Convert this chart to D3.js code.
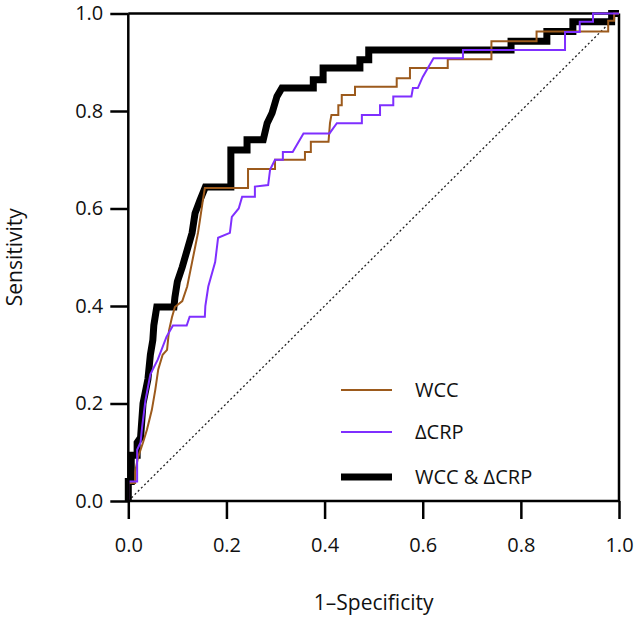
<!DOCTYPE html>
<html><head><meta charset="utf-8">
<script src="https://cdn.jsdelivr.net/npm/d3@7"></script>
<style>body{margin:0;background:#fff}svg{display:block}text{font-family:"Open Sans",sans-serif;fill:#111}</style>
</head><body><div id="chart"></div>
<script>
const xTicks = [0, 0.2, 0.4, 0.6, 0.8, 1.0];
const yTicks = [0, 0.2, 0.4, 0.6, 0.8, 1.0];
const seriesNames = ["WCC", "\u0394CRP", "WCC & \u0394CRP"];
const seriesColors = ["#9c5a1c", "#7f2fff", "#000000"];
const seriesWidths = [2, 2, 7];

const wcc = [[0,0],[0,0.037],[0.014,0.037],[0.014,0.06],[0.02,0.09],[0.03,0.12],[0.038,0.146],[0.048,0.187],[0.055,0.228],[0.061,0.27],[0.07,0.30],[0.079,0.31],[0.083,0.35],[0.089,0.377],[0.095,0.398],[0.11,0.41],[0.12,0.44],[0.13,0.49],[0.136,0.52],[0.142,0.55],[0.146,0.576],[0.152,0.617],[0.156,0.642],[0.244,0.642],[0.244,0.681],[0.299,0.681],[0.299,0.70],[0.36,0.70],[0.36,0.716],[0.372,0.716],[0.372,0.737],[0.408,0.737],[0.411,0.775],[0.414,0.792],[0.428,0.792],[0.428,0.812],[0.435,0.812],[0.435,0.833],[0.462,0.833],[0.462,0.85],[0.547,0.85],[0.547,0.867],[0.574,0.867],[0.574,0.888],[0.651,0.888],[0.651,0.906],[0.74,0.906],[0.74,0.943],[0.832,0.943],[0.832,0.963],[0.978,0.963],[0.978,0.985],[0.99,0.985],[0.99,1.0],[1,1]];

const dcrp = [[0,0],[0,0.04],[0.018,0.04],[0.018,0.105],[0.025,0.12],[0.028,0.15],[0.035,0.207],[0.045,0.26],[0.06,0.29],[0.078,0.337],[0.091,0.36],[0.119,0.36],[0.125,0.378],[0.156,0.378],[0.157,0.40],[0.16,0.42],[0.163,0.44],[0.177,0.49],[0.183,0.54],[0.207,0.55],[0.211,0.583],[0.225,0.60],[0.232,0.624],[0.258,0.624],[0.258,0.645],[0.285,0.648],[0.289,0.68],[0.299,0.70],[0.315,0.70],[0.315,0.716],[0.335,0.716],[0.357,0.754],[0.41,0.754],[0.425,0.775],[0.476,0.775],[0.476,0.792],[0.513,0.792],[0.513,0.812],[0.54,0.812],[0.54,0.83],[0.577,0.83],[0.58,0.847],[0.59,0.847],[0.6,0.87],[0.622,0.908],[0.682,0.908],[0.682,0.925],[0.89,0.925],[0.89,0.962],[0.92,0.962],[0.92,0.983],[0.947,0.983],[0.947,1.0],[1,1]];

const combo = [[0,0],[0,0.04],[0.006,0.04],[0.006,0.094],[0.018,0.094],[0.018,0.12],[0.025,0.13],[0.03,0.2],[0.04,0.25],[0.045,0.3],[0.05,0.33],[0.052,0.36],[0.058,0.398],[0.093,0.398],[0.095,0.418],[0.1,0.45],[0.11,0.48],[0.12,0.515],[0.13,0.55],[0.136,0.59],[0.146,0.617],[0.157,0.644],[0.209,0.644],[0.209,0.72],[0.242,0.72],[0.242,0.741],[0.275,0.741],[0.283,0.775],[0.293,0.796],[0.303,0.83],[0.313,0.847],[0.377,0.847],[0.377,0.864],[0.397,0.864],[0.397,0.888],[0.472,0.888],[0.472,0.905],[0.49,0.905],[0.49,0.925],[0.78,0.925],[0.78,0.943],[0.853,0.943],[0.853,0.963],[0.906,0.963],[0.906,0.983],[0.985,0.983],[0.985,1.0],[1,1]];

const seriesData = [wcc, dcrp, combo];

const W = 637, H = 619;
const svg = d3.select("#chart").append("svg").attr("width", W).attr("height", H);
const x = d3.scaleLinear().domain([0,1]).range([128.3, 619]);
const y = d3.scaleLinear().domain([0,1]).range([501, 13.5]);

// frame top/right
svg.append("line").attr("x1", x(0)).attr("x2", x(1)).attr("y1", y(1)).attr("y2", y(1)).attr("stroke","#000").attr("stroke-width",2.5);
svg.append("line").attr("x1", x(1)).attr("x2", x(1)).attr("y1", y(0)).attr("y2", y(1)).attr("stroke","#000").attr("stroke-width",2.5);

// diagonal reference
svg.append("line").attr("x1", x(0)).attr("y1", y(0)).attr("x2", x(1)).attr("y2", y(1))
  .attr("stroke","#222").attr("stroke-width",1.3).attr("stroke-dasharray","2,2.5");

const line = d3.line().x(d => x(d[0])).y(d => y(d[1]));
[2,0,1].forEach(i => {
  svg.append("path").datum(seriesData[i]).attr("d", line)
    .attr("fill","none").attr("stroke", seriesColors[i]).attr("stroke-width", seriesWidths[i])
    .attr("stroke-linejoin","miter");
});

const fmt = d3.format(".1f");
const xAxis = svg.append("g").attr("transform", `translate(0,${y(0)})`)
  .call(d3.axisBottom(x).tickValues(xTicks).tickFormat(fmt).tickSize(18).tickPadding(19));
const yAxis = svg.append("g").attr("transform", `translate(${x(0)},0)`)
  .call(d3.axisLeft(y).tickValues(yTicks).tickFormat(fmt).tickSize(18).tickPadding(7));
[xAxis, yAxis].forEach(g => {
  g.selectAll("path,line").attr("stroke","#000").attr("stroke-width",2.5);
  g.selectAll("text").attr("font-size",20).attr("font-family","'Open Sans',sans-serif").attr("fill","#111");
});
xAxis.select(".domain").attr("d", `M${x(0)},0H${x(1)}`);
yAxis.select(".domain").attr("d", `M0,${y(0)}V${y(1)}`);

svg.append("text").attr("x", (x(0)+x(1))/2).attr("y", 610).attr("text-anchor","middle")
  .attr("font-size",21).text("1\u2013Specificity");
svg.append("text").attr("transform", `translate(22,${(y(0)+y(1))/2}) rotate(-90)`).attr("text-anchor","middle")
  .attr("font-size",21).text("Sensitivity");

// legend
const legY = [390, 432, 477];
seriesNames.forEach((n,i) => {
  svg.append("line").attr("x1",341).attr("x2",392).attr("y1",legY[i]).attr("y2",legY[i])
    .attr("stroke",seriesColors[i]).attr("stroke-width",seriesWidths[i]);
  svg.append("text").attr("x",415).attr("y",legY[i]).attr("dy","0.36em").attr("font-size",20).text(n);
});
</script></body></html>
